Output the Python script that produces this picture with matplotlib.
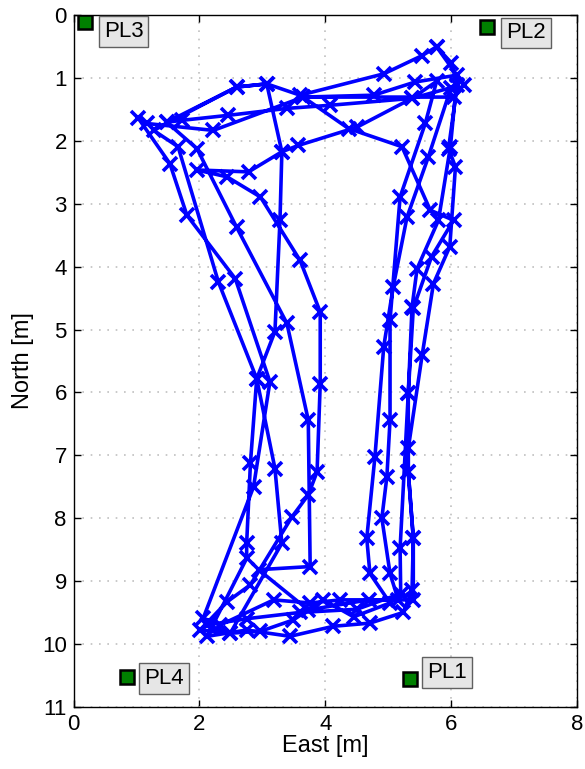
import matplotlib
matplotlib.use('Agg')
import matplotlib.pyplot as plt

plt.rcParams['font.family'] = ['Liberation Sans', 'DejaVu Sans']

# estimated walked track (East, North) in metres
east = [
    5.77, 6.00, 6.10, 5.96, 6.07, 5.98, 5.72, 5.54, 5.32, 5.32, 5.40, 5.38, 5.24,
    4.71, 4.13, 3.44, 2.75, 2.12,
    2.75, 2.75, 2.81, 2.91, 3.20, 3.28, 3.31, 3.07,
    2.59, 1.48, 1.72, 2.46, 3.39, 4.08, 5.38, 6.00,
    5.64, 5.30, 5.08, 4.93, 4.79, 4.66, 4.71, 5.03,
    4.45, 3.97, 3.49, 2.97, 2.49, 2.01,
    2.44, 2.81, 3.47, 3.73, 3.87, 3.92, 3.92, 3.60, 2.97, 2.44, 1.96,
    2.78, 3.31, 3.57, 4.50, 5.38, 5.77,
    5.59, 5.19, 5.03, 5.03, 4.98, 4.90, 5.03, 5.16,
    4.24, 3.76, 3.18, 2.33, 2.06,
    2.86, 3.12, 2.57, 1.80, 1.53, 1.03,
    1.16, 2.22, 3.65, 4.77, 5.43, 6.10,
    5.99, 5.80, 5.46, 5.38, 5.32, 5.19, 5.20,
    4.50, 3.60, 2.75, 2.12,
    2.49, 3.31, 3.20, 2.91, 2.30, 1.66, 1.27,
    2.59, 3.07, 3.60, 4.93, 5.54, 5.77, 6.20,
    6.05, 3.65, 4.37, 5.22, 5.67, 6.04, 5.69, 5.40, 5.32, 5.32, 5.40, 5.40,
    4.69, 3.73, 2.94, 3.76, 3.73, 3.39, 2.59, 1.96, 1.48,
]
north = [
    0.50, 0.75, 1.10, 2.12, 2.41, 3.68, 4.27, 5.41, 6.89, 7.26, 8.32, 9.14, 9.50,
    9.67, 9.72, 9.88, 9.78, 9.88,
    8.64, 8.40, 7.13, 5.78, 5.03, 3.26, 2.17, 1.09,
    1.14, 1.70, 1.67, 1.59, 1.48, 1.43, 1.32, 1.15,
    2.25, 3.21, 4.32, 5.27, 7.02, 8.32, 8.88, 9.35,
    9.57, 9.30, 9.62, 9.80, 9.83, 9.78,
    9.33, 9.06, 7.98, 7.63, 7.26, 5.86, 4.72, 3.90, 2.89, 2.57, 2.46,
    2.49, 2.17, 2.07, 1.78, 1.32, 1.05,
    1.72, 2.89, 4.85, 6.44, 7.34, 8.00, 8.88, 9.30,
    9.30, 9.35, 9.30, 9.70, 9.59,
    7.50, 5.83, 4.19, 3.18, 2.36, 1.64,
    1.72, 1.83, 1.30, 1.27, 1.06, 0.95,
    2.09, 3.26, 4.03, 4.64, 6.01, 8.48, 9.20,
    9.45, 9.50, 9.60, 9.70,
    9.83, 8.40, 7.21, 5.78, 4.24, 2.09, 1.83,
    1.14, 1.09, 1.27, 0.93, 0.64, 0.50, 1.10,
    1.30, 1.30, 1.80, 2.09, 3.10, 3.26, 3.84, 4.66, 6.01, 7.26, 8.32, 9.30,
    9.30, 9.46, 8.82, 8.77, 6.44, 4.90, 3.37, 2.12, 1.70,
]

# anchor (pseudolite) positions
pl_names = ['PL1', 'PL2', 'PL3', 'PL4']
pl_east = [5.35, 6.57, 0.18, 0.84]
pl_north = [10.56, 0.19, 0.11, 10.52]
label_east = [5.62, 6.88, 0.48, 1.12]
label_north = [10.45, 0.28, 0.26, 10.55]

fig = plt.figure(figsize=(5.85, 7.69), dpi=100)
ax = fig.add_axes([0.126, 0.081, 0.86, 0.899])

ax.plot(east, north, color='#0000ff', linewidth=2.6, marker='x',
        markersize=10, markeredgewidth=2.6, zorder=3)

ax.plot(pl_east, pl_north, linestyle='none', marker='s', markersize=10,
        markerfacecolor='#008000', markeredgecolor='black',
        markeredgewidth=1.8, zorder=4)
for name, x, y in zip(pl_names, label_east, label_north):
    ax.text(x, y, name, fontsize=16, va='center', ha='left', zorder=5,
            bbox=dict(boxstyle='square,pad=0.22', facecolor='#e6e6e6',
                      edgecolor='#606060', linewidth=1.0))

ax.set_xlim(0, 8)
ax.set_ylim(11, 0)
ax.set_xticks([0, 2, 4, 6, 8])
ax.set_yticks(range(0, 12))
ax.grid(True, color='#c0c0c0', linestyle=(0, (1, 4)), linewidth=1.2)
ax.tick_params(direction='in', top=True, right=True, labelsize=16,
               length=5, width=1, pad=5)
for s in ax.spines.values():
    s.set_linewidth(1.0)

ax.set_xlabel('East [m]', fontsize=17, labelpad=0)
ax.set_ylabel('North [m]', fontsize=17, labelpad=6)

fig.savefig('out.png', dpi=100)
